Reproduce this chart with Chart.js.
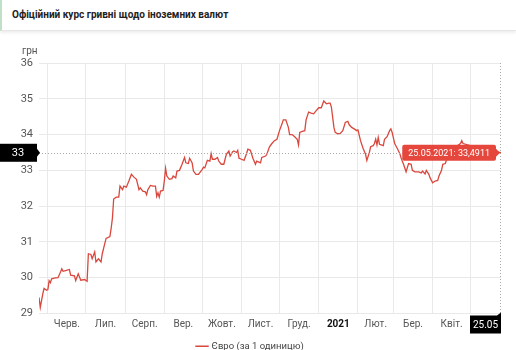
<!DOCTYPE html>
<html>
<head>
<meta charset="utf-8">
<script src="https://cdn.jsdelivr.net/npm/chart.js@4.4.1/dist/chart.umd.min.js"></script>
<style>
    body { margin: 0; background: #fff; font-family: Roboto, "Noto Sans", sans-serif; overflow: hidden; }
    .head {
        height: 30px; line-height: 30px; padding-left: 10px;
        border-left: 2px solid #bfe0c6; border-bottom: 1px solid #e6e6e6;
        box-shadow: 0 2px 3px rgba(0, 0, 0, 0.07);
        font-size: 10px; font-weight: bold; color: #222;
    }
    .wrap { position: relative; width: 516px; height: 330px; }
</style>
</head>
<body>
<div class="head">Офіційний курс гривні щодо іноземних валют</div>
<div class="wrap"><canvas id="chart"></canvas></div>
<script>
// дні від 25.05.2020
const days = [0, 1, 3, 4, 6, 7, 8, 9, 10, 12, 15, 17, 18, 19, 21, 24, 25, 28, 29, 31,
    32, 33, 36, 38, 39, 41, 42, 44, 45, 47, 49, 50, 52, 53, 56, 57, 58, 59, 61, 63,
    64, 66, 67, 69, 71, 73, 75, 77, 79, 80, 82, 84, 85, 86, 88, 90, 92, 93, 94, 95,
    96, 98, 99, 100, 101, 103, 105, 106, 108, 109, 111, 113, 115, 116, 118, 119, 121, 122, 124, 126,
    129, 130, 131, 133, 135, 136, 137, 139, 141, 142, 144, 146, 148, 150, 151, 153, 154, 156, 157, 158,
    160, 162, 164, 165, 167, 169, 171, 172, 175, 176, 179, 180, 182, 184, 186, 188, 190, 192, 193, 195,
    197, 198, 200, 202, 204, 205, 206, 208, 210, 211, 213, 215, 217, 219, 221, 223, 225, 227, 229, 230,
    231, 233, 234, 236, 238, 240, 242, 244, 245, 247, 249, 251, 252, 254, 256, 258, 259, 261, 262, 264,
    265, 266, 267, 268, 269, 272, 273, 275, 277, 278, 279, 281, 283, 285, 286, 287, 288, 290, 292, 294,
    295, 297, 300, 302, 303, 305, 306, 308, 309, 311, 313, 315, 316, 318, 319, 321, 323, 326, 329, 333,
    334, 335, 340, 345, 350, 355, 360, 365];
const rates = [29.45, 29.17, 29.55, 29.70, 29.65, 29.67, 29.92, 29.86, 29.97, 29.99, 30.00, 30.16, 30.25, 30.18, 30.20, 30.23, 30.07, 30.05, 29.92, 30.11,
    30.02, 29.93, 29.95, 29.90, 30.67, 30.65, 30.53, 30.72, 30.44, 30.53, 30.44, 30.67, 30.96, 31.10, 31.15, 31.38, 31.66, 32.20, 32.25, 32.25,
    32.56, 32.46, 32.56, 32.53, 32.70, 32.89, 32.81, 32.75, 32.46, 32.51, 32.42, 32.40, 32.32, 32.46, 32.58, 32.56, 32.56, 32.27, 32.37, 32.25,
    32.42, 32.44, 32.70, 33.06, 32.84, 32.75, 32.77, 32.84, 32.79, 32.98, 33.00, 33.17, 33.36, 33.21, 33.19, 33.34, 33.21, 32.98, 32.89, 32.89,
    33.03, 33.09, 33.07, 33.28, 33.26, 33.47, 33.31, 33.31, 33.36, 33.26, 33.17, 33.17, 33.45, 33.54, 33.40, 33.52, 33.54, 33.50, 33.56, 33.34,
    33.31, 33.28, 33.47, 33.59, 33.56, 33.34, 33.17, 33.26, 33.21, 33.36, 33.40, 33.45, 33.65, 33.75, 33.83, 33.87, 34.11, 34.30, 34.41, 34.41,
    34.20, 34.00, 34.00, 33.94, 33.87, 33.71, 34.06, 34.09, 34.11, 34.41, 34.63, 34.60, 34.58, 34.67, 34.75, 34.75, 34.94, 34.86, 34.88, 34.88,
    34.77, 34.20, 34.06, 34.02, 34.03, 34.11, 34.34, 34.37, 34.28, 34.20, 34.16, 34.11, 34.13, 33.83, 33.62, 33.45, 33.28, 33.50, 33.66, 33.69,
    33.75, 33.87, 33.71, 33.92, 33.73, 33.69, 33.87, 33.94, 34.11, 34.16, 34.06, 33.75, 33.62, 33.47, 33.36, 33.26, 33.17, 32.96, 33.19, 33.17,
    33.00, 32.96, 32.96, 32.93, 32.98, 32.90, 33.00, 32.89, 32.79, 32.65, 32.70, 32.72, 32.84, 33.00, 33.17, 33.19, 33.40, 33.55, 33.65, 33.75,
    33.83, 33.75, 33.70, 33.62, 33.58, 33.55, 33.52, 33.4911];

const monthStarts = [7, 37, 68, 99, 129, 160, 190, 221, 252, 280, 311, 341, 365];
const monthLabels = ["Черв.", "Лип.", "Серп.", "Вер.", "Жовт.", "Лист.", "Груд.", "2021", "Лют.", "Бер.", "Квіт.", "Трав."];
const yTicks = [29, 30, 31, 32, 33, 34, 35, 36];
const lastLabel = "25.05.2021";
const lastShort = "25.05";
const seriesName = "Євро (за 1 одиницю)";
const unitLabel = "грн";

const lineColor = "#d9473d";

const points = days.map((d, i) => ({ x: d, y: rates[i] }));

// підписи місяців по центру інтервалу + курсор на останній точці
const overlay = {
    id: "overlay",
    afterDraw(chart) {
        const ctx = chart.ctx;
        const xs = chart.scales.x;
        const ys = chart.scales.y;
        const area = chart.chartArea;

        ctx.save();
        ctx.textAlign = "center";
        ctx.textBaseline = "middle";
        for (let i = 0; i < monthLabels.length; i++) {
            const mid = (monthStarts[i] + monthStarts[i + 1]) / 2;
            ctx.font = monthLabels[i] === "2021" ? "bold 10px Roboto" : "10px Roboto";
            ctx.fillStyle = monthLabels[i] === "2021" ? "#111" : "#555";
            ctx.fillText(monthLabels[i], xs.getPixelForValue(mid), area.bottom + 11);
        }

        ctx.font = "10px Roboto";
        ctx.fillStyle = "#555";
        ctx.textAlign = "left";
        ctx.fillText(unitLabel, 22, area.top - 12);

        const lastX = days[days.length - 1];
        const lastY = rates[rates.length - 1];
        const px = xs.getPixelForValue(lastX);
        const py = ys.getPixelForValue(lastY);

        // пунктирні лінії курсора
        ctx.strokeStyle = "#aaa";
        ctx.lineWidth = 1;
        ctx.setLineDash([1, 2]);
        ctx.beginPath();
        ctx.moveTo(area.left, Math.round(py) + 0.5);
        ctx.lineTo(area.right, Math.round(py) + 0.5);
        ctx.moveTo(Math.round(px) - 0.5, area.top);
        ctx.lineTo(Math.round(px) - 0.5, area.bottom);
        ctx.stroke();
        ctx.setLineDash([]);

        // червона підказка
        const tipText = lastLabel + ": " + lastY.toFixed(4).replace(".", ",");
        ctx.font = "9px Roboto";
        const tw = ctx.measureText(tipText).width;
        const bw = tw + 12, bh = 16;
        const bx = px - 5 - bw, by = py - bh / 2;
        ctx.fillStyle = "#e5473d";
        ctx.beginPath();
        ctx.roundRect(bx, by, bw, bh, 2);
        ctx.fill();
        ctx.beginPath();
        ctx.moveTo(bx + bw, py - 4);
        ctx.lineTo(px - 1, py);
        ctx.lineTo(bx + bw, py + 4);
        ctx.fill();
        ctx.fillStyle = "#fff";
        ctx.textAlign = "center";
        ctx.fillText(tipText, bx + bw / 2, py + 0.5);

        // чорна мітка на осі Y
        ctx.fillStyle = "#000";
        ctx.fillRect(0, py - 9, 37, 18);
        ctx.beginPath();
        ctx.moveTo(37, py - 4);
        ctx.lineTo(40, py);
        ctx.lineTo(37, py + 4);
        ctx.fill();
        ctx.fillStyle = "#fff";
        ctx.font = "11px Roboto";
        ctx.fillText(String(Math.trunc(lastY)), 18, py + 0.5);

        // чорна мітка на осі X
        const dx = Math.round(px);
        ctx.fillStyle = "#000";
        ctx.beginPath();
        ctx.moveTo(dx - 31, area.bottom + 2);
        ctx.lineTo(dx - 4, area.bottom + 2);
        ctx.lineTo(dx, area.bottom - 1);
        ctx.lineTo(dx, area.bottom + 20);
        ctx.lineTo(dx - 31, area.bottom + 20);
        ctx.closePath();
        ctx.fill();
        ctx.fillStyle = "#fff";
        ctx.font = "10px Roboto";
        ctx.fillText(lastShort, dx - 15.5, area.bottom + 11.5);
        ctx.restore();
    }
};

new Chart(document.getElementById("chart"), {
    type: "line",
    data: {
        datasets: [{
            label: seriesName,
            data: points,
            borderColor: lineColor,
            backgroundColor: lineColor,
            borderWidth: 1.3,
            pointRadius: 0,
            tension: 0
        }]
    },
    options: {
        responsive: true,
        maintainAspectRatio: false,
        animation: false,
        layout: { padding: { top: 32, right: 15, left: 0, bottom: 0 } },
        scales: {
            x: {
                type: "linear",
                min: 0,
                max: 365,
                afterBuildTicks: (scale) => {
                    scale.ticks = monthStarts.slice(0, -1).map(v => ({ value: v }));
                },
                afterFit: (scale) => { scale.height = 22; },
                ticks: { display: false },
                grid: { color: "#e9e9e9", drawTicks: false },
                border: { display: false }
            },
            y: {
                min: 29,
                max: 36,
                afterBuildTicks: (scale) => {
                    scale.ticks = yTicks.map(v => ({ value: v }));
                },
                afterFit: (scale) => { scale.width = 39; },
                ticks: {
                    color: "#555",
                    font: { family: "Roboto", size: 11 },
                    padding: 6
                },
                grid: { color: "#e9e9e9", drawTicks: false },
                border: { display: false }
            }
        },
        plugins: {
            legend: {
                position: "bottom",
                labels: {
                    usePointStyle: true,
                    pointStyle: "line",
                    boxWidth: 14,
                    boxHeight: 10,
                    color: "#444",
                    font: { family: "Roboto", size: 9.5 },
                    padding: 6
                }
            },
            tooltip: { enabled: false }
        }
    },
    plugins: [overlay]
});
</script>
</body>
</html>
